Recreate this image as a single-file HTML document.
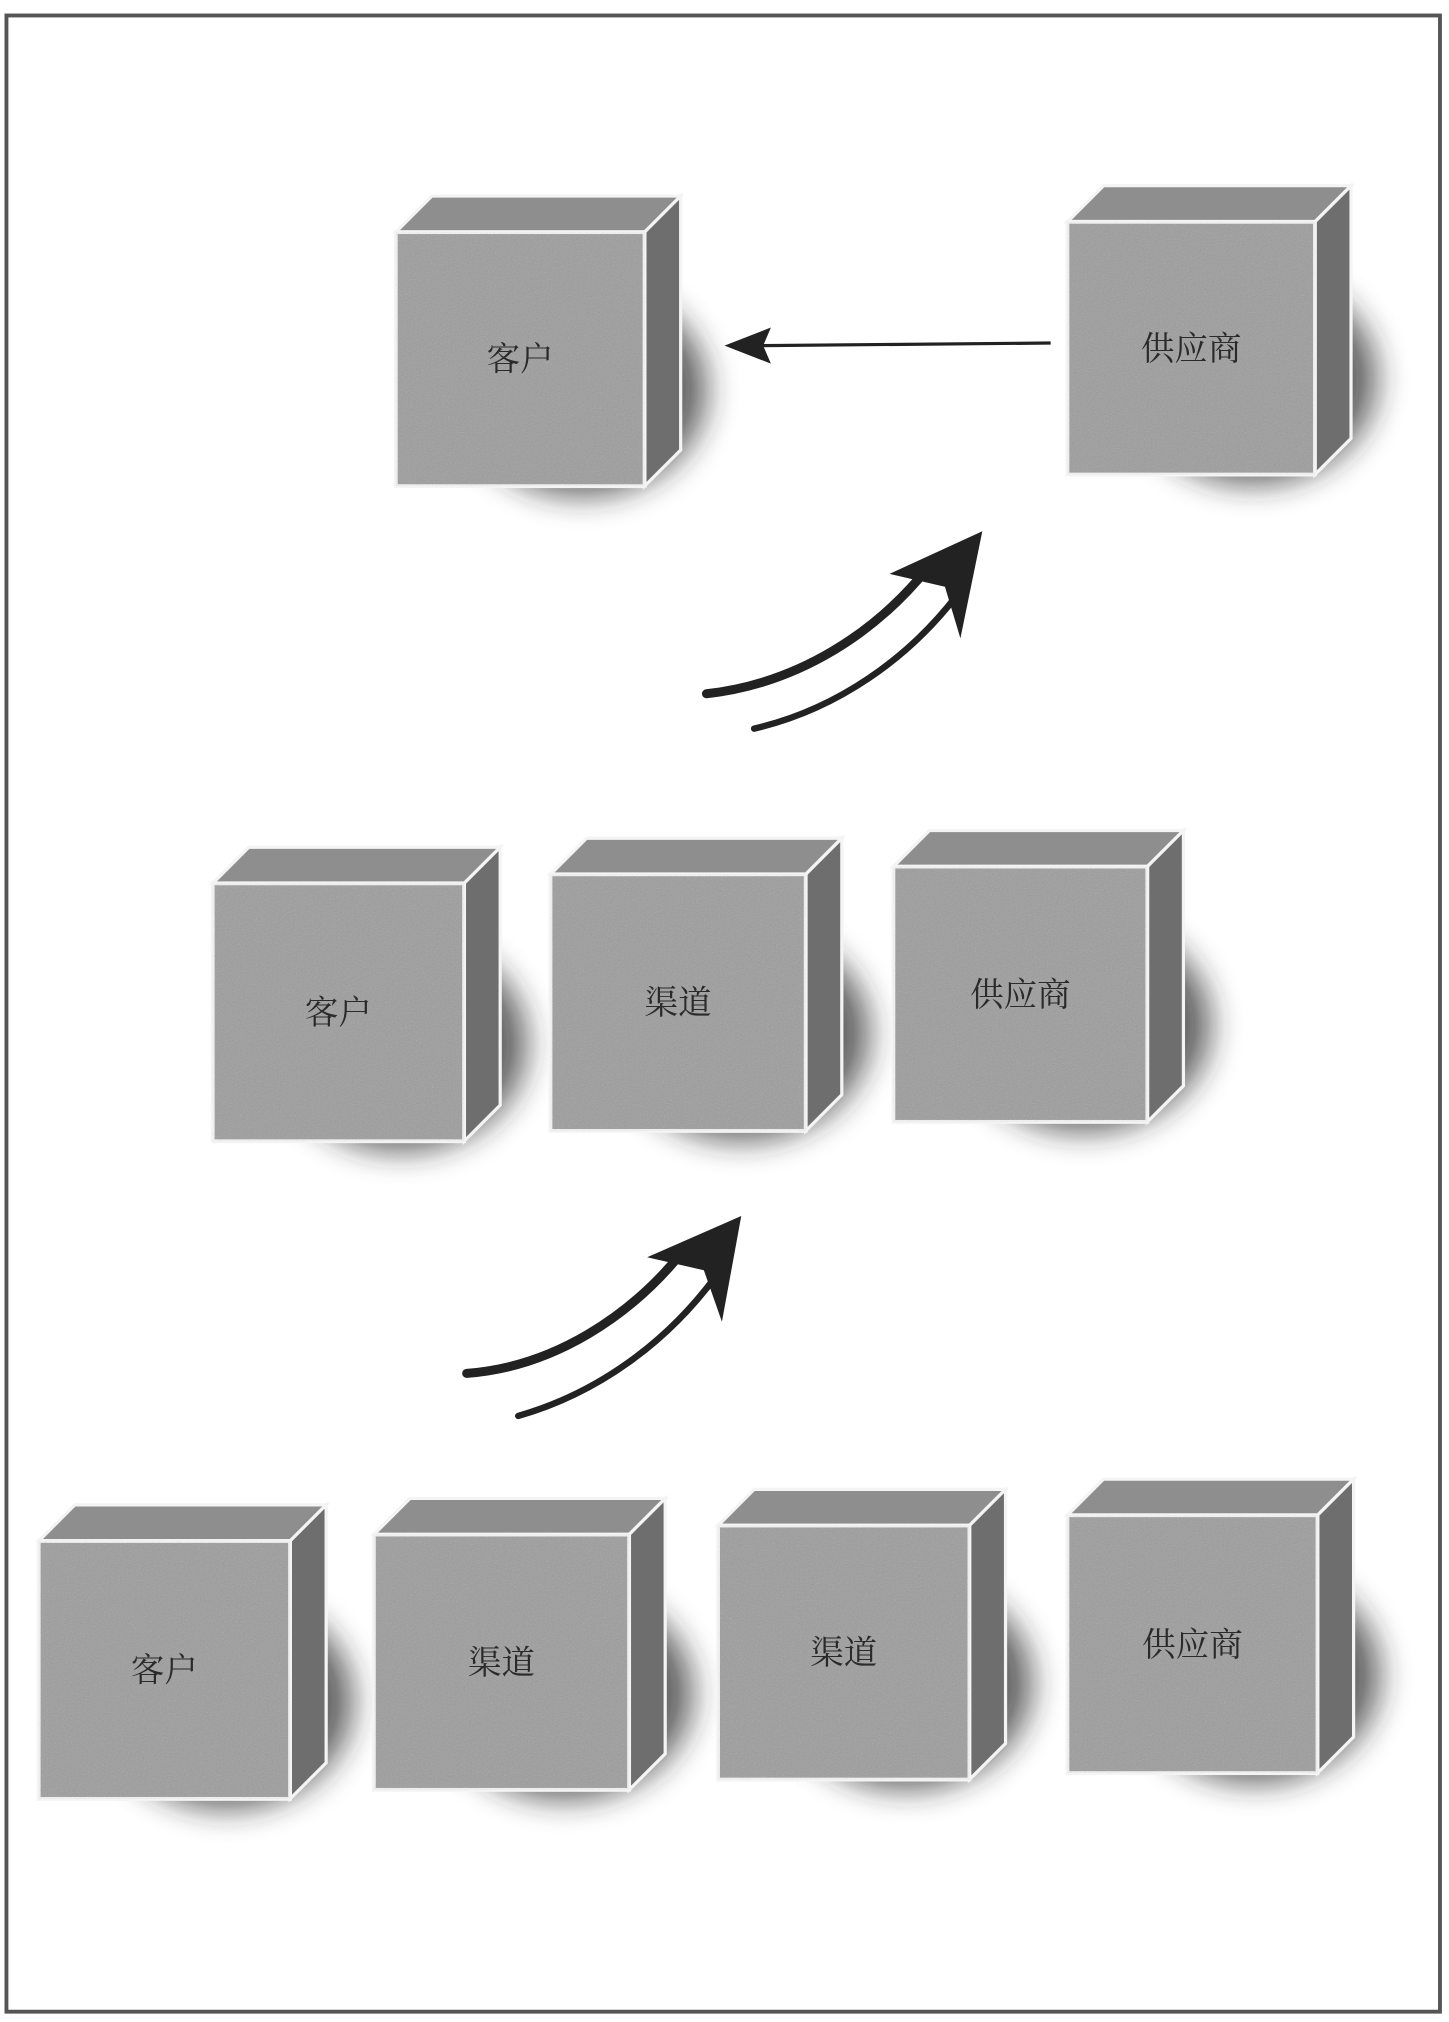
<!DOCTYPE html>
<html><head><meta charset="utf-8">
<style>
html,body{margin:0;padding:0;background:#fff;}
svg{display:block;}
</style></head>
<body>
<svg id="fig" width="1449" height="2022" viewBox="0 0 1124 1568" preserveAspectRatio="none" xmlns="http://www.w3.org/2000/svg">
<defs>
<filter id="blur" x="-50%" y="-50%" width="200%" height="200%"><feGaussianBlur stdDeviation="12"/></filter>
<filter id="noise"><feTurbulence type="fractalNoise" baseFrequency="0.9" numOctaves="2" result="n"/><feColorMatrix type="saturate" values="0"/><feComponentTransfer><feFuncA type="table" tableValues="0 0.25"/></feComponentTransfer><feComposite in2="SourceGraphic" operator="in"/></filter>
</defs>
<rect x="0" y="0" width="1124" height="1568" fill="#fff"/>
<rect x="5" y="12" width="1112" height="1548" fill="none" stroke="#555" stroke-width="3"/>
<g id="boxes"></g>
<g>
<line x1="815" y1="266" x2="590" y2="268" stroke="#222" stroke-width="2.5"/>
<polygon points="562,268 598,254 592,268 598,282" fill="#222"/>
</g>
<g>
<path d="M548,538 C620,530 680,490 720,440" fill="none" stroke="#222" stroke-width="7" stroke-linecap="round"/>
<path d="M585,565 C650,550 705,510 742,462" fill="none" stroke="#222" stroke-width="5" stroke-linecap="round"/>
<polygon points="762,412 745,495 733,455 690,445" fill="#222"/>
</g>
<g>
<path d="M362,1065 C430,1060 490,1020 530,970" fill="none" stroke="#222" stroke-width="7" stroke-linecap="round"/>
<path d="M402,1098 C465,1080 518,1040 555,990" fill="none" stroke="#222" stroke-width="5" stroke-linecap="round"/>
<polygon points="575,943 560,1025 546,985 502,975" fill="#222"/>
</g>
</svg>
<script>
// box data: [front-left x, front-top y, width, height, label, name]
const boxes = [
  [307,180,193,197,"客户","top-customer-box"],
  [828,172,192,196,"供应商","top-supplier-box"],
  [165,685,195,200,"客户","mid-customer-box"],
  [427,678,198,199,"渠道","mid-channel-box"],
  [693,672,197,198,"供应商","mid-supplier-box"],
  [30,1195,195,200,"客户","bottom-customer-box"],
  [290,1190,198,198,"渠道","bottom-channel-box-1"],
  [557,1183,195,197,"渠道","bottom-channel-box-2"],
  [828,1175,194,200,"供应商","bottom-supplier-box"]
];
const NS="http://www.w3.org/2000/svg";
const g=document.getElementById('boxes');
const D=28;
function mk(tag,attrs,parent){const e=document.createElementNS(NS,tag);for(const k in attrs)e.setAttribute(k,attrs[k]);parent.appendChild(e);return e;}
boxes.forEach(b=>{
  const [x,y,w,h,label,name]=b;
  const grp=mk('g',{},g);
  
  
  mk('ellipse',{cx:x+w*0.75,cy:y+h*0.62,rx:w*0.5,ry:h*0.42,fill:'#222',opacity:'0.7',filter:'url(#blur)'},grp);
  const top=`${x},${y} ${x+D},${y-D} ${x+w+D},${y-D} ${x+w},${y}`;
  const side=`${x+w},${y} ${x+w+D},${y-D} ${x+w+D},${y+h-D} ${x+w},${y+h}`;
  mk('polygon',{points:top,fill:'#8e8e8e',stroke:'#f4f4f4','stroke-width':'2.5'},grp);
  mk('polygon',{points:side,fill:'#6e6e6e',stroke:'#f4f4f4','stroke-width':'2.5'},grp);
  mk('rect',{x:x,y:y,width:w,height:h,fill:'#9d9d9d',stroke:'#f4f4f4','stroke-width':'3'},grp);
  mk('rect',{x:x,y:y,width:w,height:h,fill:'#666',filter:'url(#noise)'},grp);
  const t=mk('text',{x:x+w/2,y:y+h/2+9,'text-anchor':'middle','font-size':'26','fill':'#2a2a2a','font-family':'"Liberation Serif","Noto Serif CJK SC","Noto Sans CJK SC",serif'},grp);
  t.textContent=label;
  
  
});
</script>
</body></html>
